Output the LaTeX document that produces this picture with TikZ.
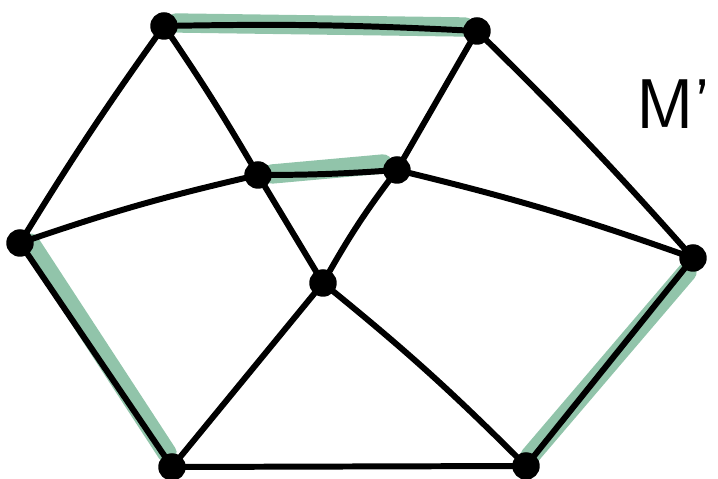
\documentclass[tikz,border=0pt]{standalone}
\usepackage{tikz}
\usetikzlibrary{positioning,calc}
\definecolor{MatchGreen}{RGB}{145,196,170}
\tikzset{dot/.style={circle,fill=black,inner sep=0pt,minimum size=5.5mm}, edge/.style={draw=black,line width=3.4pt,line cap=round}, matched/.style={draw=MatchGreen,line width=11pt,line cap=round}}

\begin{document}
\begin{tikzpicture}[x=0.02cm,y=-0.02cm]
\useasboundingbox (0,0) rectangle (718,479);
\coordinate (a) at (164,26);
\coordinate (b) at (477,31);
\coordinate (c) at (258,175);
\coordinate (d) at (397,170);
\coordinate (e) at (20,243);
\coordinate (f) at (693,258);
\coordinate (g) at (323,283);
\coordinate (h) at (172,467);
\coordinate (i) at (526,466);
\draw[matched] ($(a)+(12,-3)$) -- ($(b)+(-12,-4)$);
\draw[matched] ($(c)+(14,-1)$) -- ($(d)+(-14,-6)$);
\draw[matched] ($(e)+(10,0)$) -- ($(h)+(-5,-14)$);
\draw[matched] ($(f)+(-6,14)$) -- ($(i)+(4,-10)$);
\draw[edge] (a) to[bend left=2] (b);
\draw[edge] (c) to[bend right=2] (d);
\draw[edge] (e) -- (h);
\draw[edge] (f) -- (i);
\draw[edge] (a) to[bend right=2] (e);
\draw[edge] (a) to[bend left=2] (c);
\draw[edge] (b) -- (d);
\draw[edge] (b) to[bend left=2] (f);
\draw[edge] (e) to[bend left=3] (c);
\draw[edge] (d) to[bend left=3] (f);
\draw[edge] (c) -- (g);
\draw[edge] (d) to[bend right=4] (g);
\draw[edge] (g) -- (h);
\draw[edge] (g) to[bend left=3] (i);
\draw[edge] (h) -- (i);
\node[dot] (na) at (a) {};
\node[dot] (nb) at (b) {};
\node[dot] (nc) at (c) {};
\node[dot] (nd) at (d) {};
\node[dot] (ne) at (e) {};
\node[dot] (nf) at (f) {};
\node[dot] (ng) at (g) {};
\node[dot] (nh) at (h) {};
\node[dot] (ni) at (i) {};
\node[font=\sffamily\fontsize{40}{40}\selectfont] (mlabel) at (674,104) {M'};
\end{tikzpicture}
\end{document}
